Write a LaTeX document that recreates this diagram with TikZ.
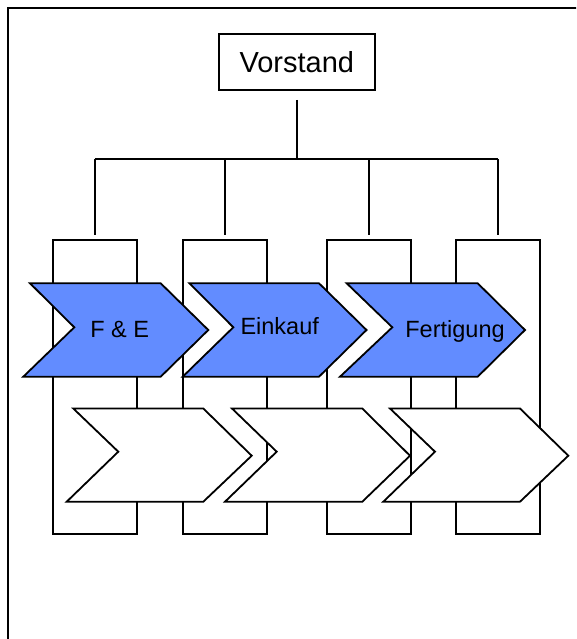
\documentclass[tikz,border=0pt]{standalone}
\usepackage{fontspec}
\setmainfont{Liberation Sans}
\definecolor{stepblue}{RGB}{98,140,255}
\tikzset{
  thinline/.style={line width=1.8pt, draw=black},
  frameline/.style={line width=2.7pt, draw=black},
  headbox/.style={thinline, rectangle, fill=white, inner sep=0pt,
    minimum width=155.7pt, minimum height=55.7pt,
    font=\fontsize{29}{34}\selectfont},
  deptbox/.style={thinline, rectangle, inner sep=0pt,
    minimum width=84pt, minimum height=294.3pt},
  bluechev/.style={thinline, fill=stepblue, line join=miter},
  whitechev/.style={thinline, fill=white, line join=miter},
  chevlabel/.style={inner sep=0pt, anchor=base, font=\fontsize{23.5}{28}\selectfont}
}
\begin{document}
\begin{tikzpicture}[x=1pt, y=-1pt]
\useasboundingbox (0,0) rectangle (576,639);
\clip (0,0) rectangle (576,639);

% outer frame, running off the right and bottom edges
\draw[frameline] (8,660) -- (8,8) -- (600,8);

% board and its connector stem
\node[headbox] (vorstand) at (296.8,62.2) {Vorstand};
\coordinate (stem) at ([yshift=-9pt]vorstand.south);
\coordinate (hub) at (296.3,159.4);

% department columns
\node[deptbox] (d1) at (94.9,386.9) {};
\node[deptbox] (d2) at (224.7,386.9) {};
\node[deptbox] (d3) at (368.6,386.9) {};
\node[deptbox] (d4) at (498.3,386.9) {};

% organisation lines
\draw[thinline] (hub -| stem) -- (hub);
\draw[thinline] (stem) -- (stem |- hub);
\draw[thinline] (d1.north |- hub) -- (d4.north |- hub);
\foreach \d in {d1,d2,d3,d4}
  \draw[thinline] (\d.north |- hub) -- ([yshift=3.7pt]\d.north);

% blue process chevrons
\path[bluechev] (30,283.3) -- (160.7,283.3) -- (208.3,330) -- (160.7,376.7)
  -- (23.3,376.7) -- (74.3,327.3) -- cycle;
\path[bluechev] (189.5,283.3) -- (319,283.3) -- (366.5,330) -- (319,376.7)
  -- (182.7,376.7) -- (233.3,327.3) -- cycle;
\path[bluechev] (346.7,283.3) -- (477.7,283.3) -- (525,330) -- (477.7,376.7)
  -- (340,376.7) -- (392.3,327.3) -- cycle;

% empty process chevrons
\path[whitechev] (73.3,408.5) -- (203.3,408.5) -- (251.7,455.7) -- (203.3,501.7)
  -- (66.7,501.7) -- (118.3,451.7) -- cycle;
\path[whitechev] (232,408.5) -- (362.3,408.5) -- (410,455.7) -- (362.3,501.7)
  -- (225,501.7) -- (276.7,451.7) -- cycle;
\path[whitechev] (390,408.5) -- (520,408.5) -- (568.3,455.7) -- (520,501.7)
  -- (383.3,501.7) -- (435,451.7) -- cycle;

% chevron labels
\node[chevlabel] (fe) at (119.7,337.3) {F \& E};
\node[chevlabel] (einkauf) at (279.7,334.3) {Einkauf};
\node[chevlabel] (fertigung) at (455,337.3) {Fertigung};
\end{tikzpicture}
\end{document}
